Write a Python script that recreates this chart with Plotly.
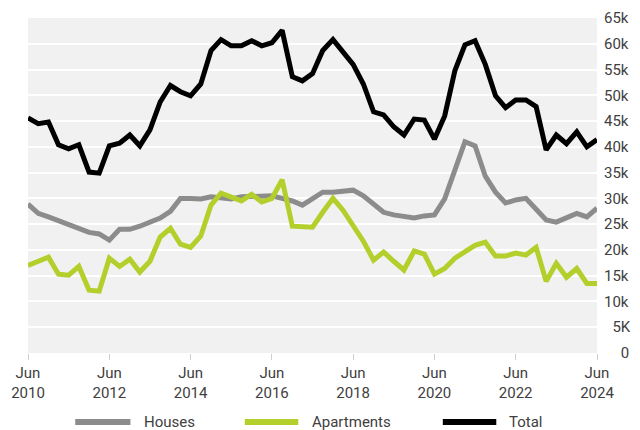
import pandas as pd
import plotly.graph_objects as go

quarters = pd.date_range("2010-06-30", periods=57, freq="QE")

houses = [28.9, 27.1, 26.4, 25.6, 25.0, 24.2, 23.4, 23.1, 21.9, 24.0,
          24.0, 24.6, 25.4, 26.2, 27.5, 30.0, 30.0, 29.9, 30.3, 30.0,
          29.9, 30.3, 30.3, 30.5, 30.5, 30.0, 29.5, 28.7, 30.0, 31.2,
          31.2, 31.4, 31.6, 30.5, 28.9, 27.3, 26.8, 26.6, 26.2, 26.6,
          26.8, 29.9, 35.7, 41.0, 40.2, 34.3, 31.2, 29.1, 29.7, 30.0,
          27.9, 25.8, 25.4, 26.2, 27.1, 26.4, 28.1]

apartments = [17.0, 17.8, 18.6, 15.3, 15.1, 16.8, 12.2, 12.0, 18.4, 16.8,
              18.2, 15.7, 17.8, 22.5, 24.2, 21.1, 20.5, 22.7, 28.7, 31.0,
              30.3, 29.5, 30.8, 29.3, 30.0, 33.6, 24.6, 24.4, 24.4, 27.3,
              30.0, 27.7, 24.8, 21.7, 18.0, 19.6, 17.8, 16.1, 19.8, 19.2,
              15.3, 16.4, 18.4, 19.6, 20.9, 21.5, 18.8, 18.8, 19.4, 19.0,
              20.5, 13.9, 17.4, 14.7, 16.4, 13.5, 13.5]

total = [45.6, 44.5, 44.8, 40.4, 39.6, 40.4, 35.1, 34.9, 40.2, 40.7,
         42.3, 40.2, 43.3, 48.7, 51.9, 50.7, 49.9, 52.2, 58.7, 60.8,
         59.6, 59.6, 60.6, 59.6, 60.2, 62.6, 53.6, 52.8, 54.2, 58.7,
         60.8, 58.5, 56.0, 52.2, 46.8, 46.2, 43.9, 42.3, 45.4, 45.2,
         41.5, 46.0, 54.8, 59.8, 60.6, 56.0, 49.9, 47.6, 49.1, 49.1,
         47.8, 39.4, 42.3, 40.6, 42.9, 40.0, 41.4]

x_tick_vals = ["2010-06-30", "2012-06-30", "2014-06-30", "2016-06-30",
               "2018-06-30", "2020-06-30", "2022-06-30", "2024-06-30"]
x_tick_text = ["Jun<br>2010", "Jun<br>2012", "Jun<br>2014", "Jun<br>2016",
               "Jun<br>2018", "Jun<br>2020", "Jun<br>2022", "Jun<br>2024"]
y_tick_vals = [0, 5000, 10000, 15000, 20000, 25000, 30000, 35000, 40000,
               45000, 50000, 55000, 60000, 65000]
y_tick_text = ["\u2007\u20070", "\u20075K", "10k", "15k", "20k", "25k", "30k",
               "35k", "40k", "45k", "50k", "55k", "60k", "65k"]

series_names = ["Houses", "Apartments", "Total"]
series_values = [houses, apartments, total]
series_colors = ["#8c8c8c", "#b3cf2b", "#000000"]

# legend layout (paper coordinates)
legend_line_x = [(0.083, 0.180), (0.381, 0.475), (0.729, 0.823)]
legend_text_x = [0.200, 0.495, 0.841]
legend_y = -0.206

FONT = "Roboto, Arial, sans-serif"
TEXT_COLOR = "#404040"

fig = go.Figure()
for name, vals, color in zip(series_names, series_values, series_colors):
    fig.add_trace(go.Scatter(
        x=quarters, y=[v * 1000 for v in vals], name=name, mode="lines",
        line=dict(color=color, width=5), showlegend=False,
    ))

shapes = []
annotations = []
for name, color, (x0, x1), tx in zip(series_names, series_colors, legend_line_x, legend_text_x):
    shapes.append(dict(type="line", xref="paper", yref="paper", x0=x0, x1=x1,
                       y0=legend_y, y1=legend_y, line=dict(color=color, width=6)))
    annotations.append(dict(text=name, xref="paper", yref="paper", x=tx, y=legend_y,
                            xanchor="left", yanchor="middle", showarrow=False,
                            font=dict(family=FONT, size=15, color=TEXT_COLOR)))

# page body has an 8px margin, so the figure is sized/offset to compensate
fig.update_layout(
    width=632, height=422,
    margin=dict(l=20, r=43, t=10, b=77),
    paper_bgcolor="white", plot_bgcolor="#f1f1f1",
    font=dict(family=FONT, size=15, color=TEXT_COLOR),
    showlegend=False,
    shapes=shapes, annotations=annotations,
    hovermode=False,
)
fig.update_xaxes(
    range=["2010-06-30", "2024-06-30"], tickvals=x_tick_vals, ticktext=x_tick_text,
    showgrid=False, zeroline=False, showline=False, automargin=False,
    ticks="outside", ticklen=6, tickcolor="#d0d0d0", tickwidth=1,
)
fig.update_yaxes(
    range=[0, 65000], side="right", tickvals=y_tick_vals, ticktext=y_tick_text,
    showgrid=True, gridcolor="white", gridwidth=1.5, zeroline=False, showline=False,
    ticks="", ticklabelstandoff=6, automargin=False,
)

fig.write_html("out.html")
